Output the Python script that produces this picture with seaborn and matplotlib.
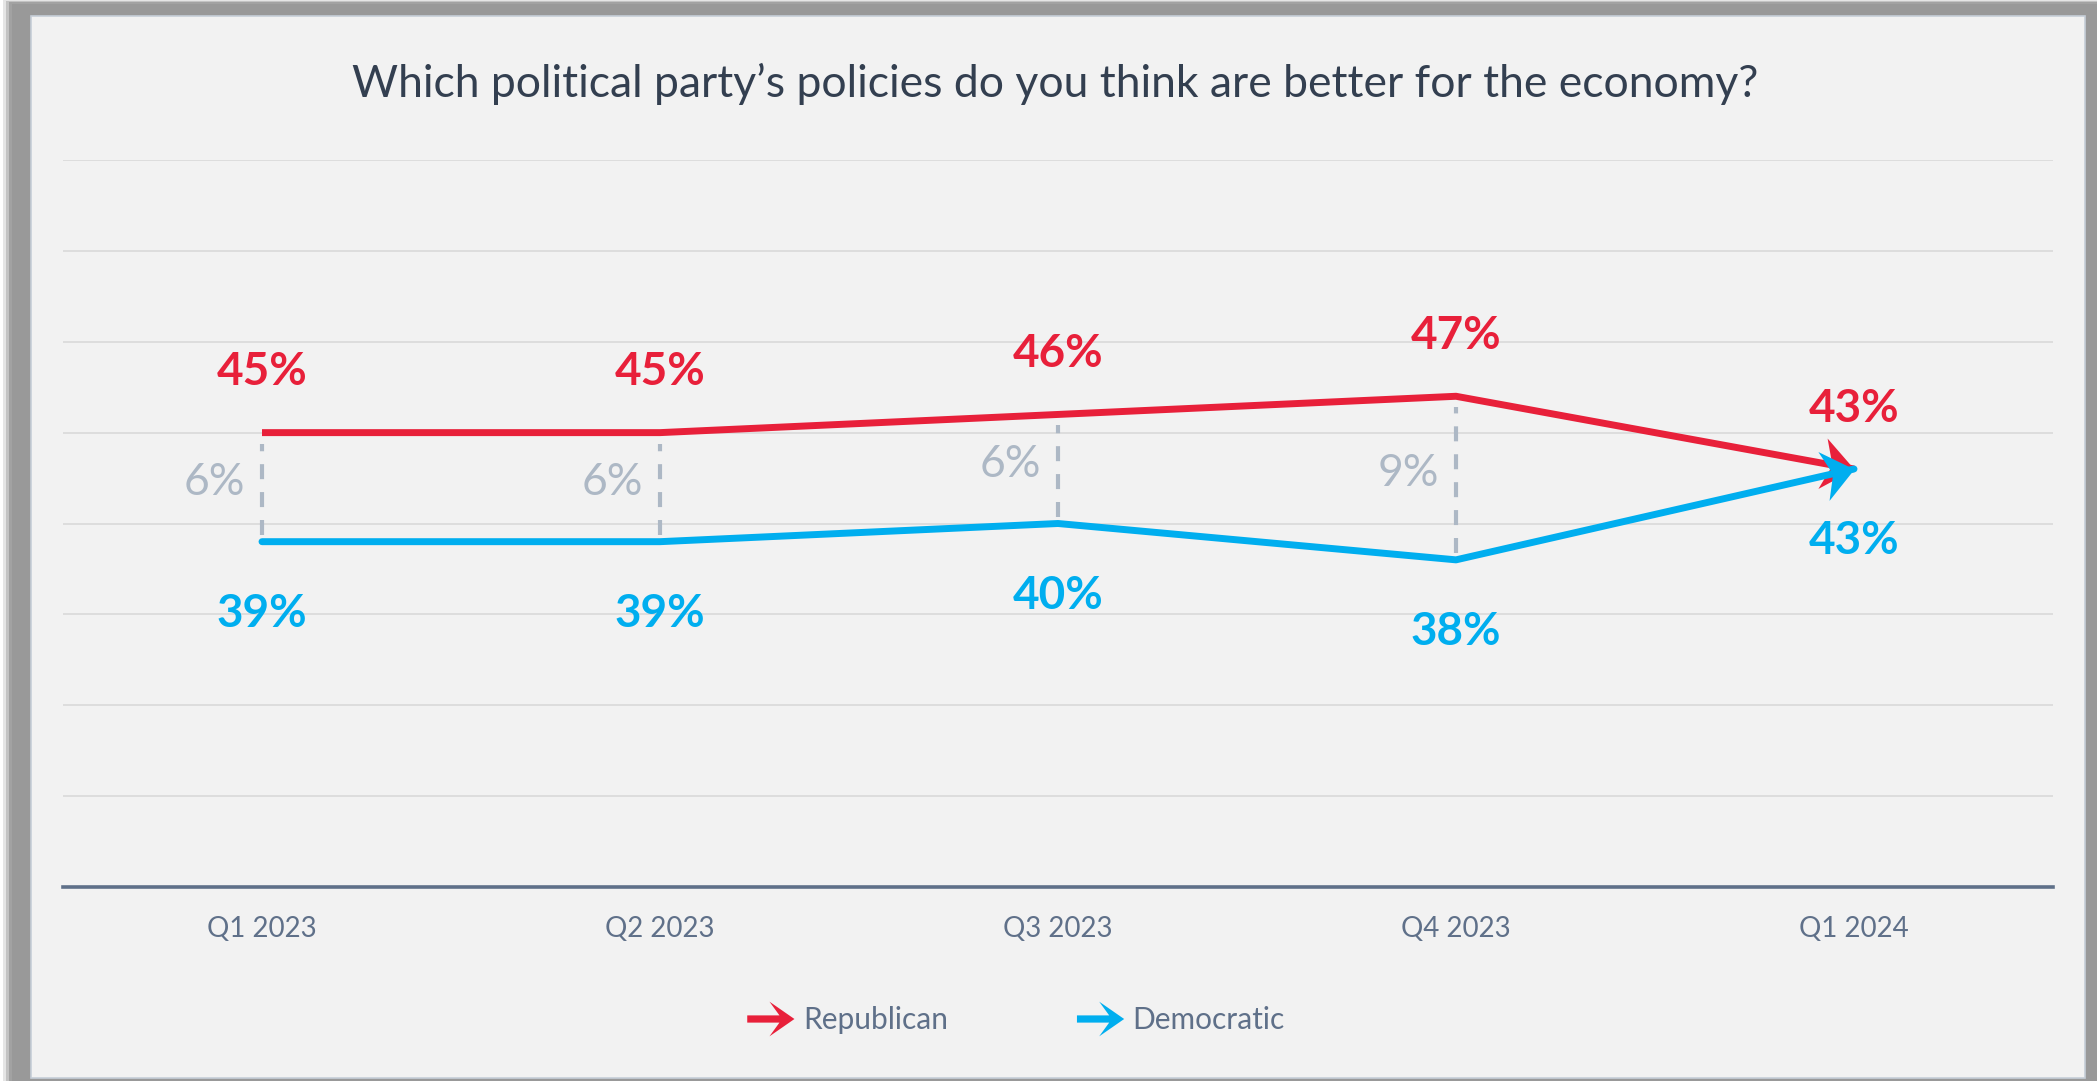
import numpy as np
import pandas as pd
import matplotlib
matplotlib.use("Agg")
import matplotlib.pyplot as plt
import seaborn as sns
from matplotlib.patches import Rectangle, Polygon
from matplotlib.path import Path
from matplotlib.markers import MarkerStyle
from matplotlib.lines import Line2D
from matplotlib.legend_handler import HandlerBase

# ---------------- data ----------------
quarters = ["Q1 2023", "Q2 2023", "Q3 2023", "Q4 2023", "Q1 2024"]
republican = [45, 45, 46, 47, 43]
democratic = [39, 39, 40, 38, 43]
series_names = ["Republican", "Democratic"]
title_text = "Which political party\u2019s policies do you think are better for the economy?"

# ---------------- style ----------------
RED = "#E8203A"
BLUE = "#00AEEF"
GAP_C = "#ADB8C5"
TITLE_C = "#333F50"
TICK_C = "#5F7089"
GRID_C = "#D9D9D9"
PANEL_C = "#F2F2F2"

W, H = 2097, 1081
sns.set_theme(style="white")
plt.rcParams["font.family"] = ["Lato", "DejaVu Sans"]

fig = plt.figure(figsize=(W / 100, H / 100), dpi=100, facecolor="white")


def fx(x):
    return x / W


def fy(y):
    return 1 - y / H


# drop shadow / grey frame
for x0, y0, col, a in [(3, 0, "#9A9A9A", 0.25), (6, 1, "#9A9A9A", 0.45),
                       (9, 2, "#9A9A9A", 0.8), (12, 4, "#999999", 1.0)]:
    fig.patches.append(Rectangle((fx(x0), fy(H + 10)), (W + 20 - x0) / W, (H + 10 - y0) / H,
                                 transform=fig.transFigure, facecolor=col, edgecolor="none",
                                 alpha=a, zorder=-3))
# panel
fig.patches.append(Rectangle((fx(31), fy(1078)), (2085 - 31) / W, (1078 - 16) / H,
                             transform=fig.transFigure, facecolor=PANEL_C,
                             edgecolor="#C6CED8", linewidth=1.2, zorder=-2))

ax = fig.add_axes([fx(63), fy(887), (2053 - 63) / W, (887 - 160) / H])
ax.set_facecolor("none")
ax.set_zorder(2)

df = pd.DataFrame({
    "pos": list(range(len(quarters))) * 2,
    "share": republican + democratic,
    "party": [series_names[0]] * len(quarters) + [series_names[1]] * len(quarters),
})
palette = {series_names[0]: RED, series_names[1]: BLUE}

sns.lineplot(data=df, x="pos", y="share", hue="party", palette=palette,
             linewidth=5, sort=False, estimator=None, legend=False, ax=ax)

ax.set_xlim(-0.5, len(quarters) - 0.5)
ax.set_ylim(20, 60)
ax.set_yticks(np.arange(25, 61, 5))
ax.set_yticklabels([])
ax.tick_params(axis="y", length=0)
ax.grid(axis="y", color=GRID_C, linewidth=1.2)
ax.grid(axis="x", visible=False)
ax.set_axisbelow(True)
for s in ["left", "right", "top"]:
    ax.spines[s].set_visible(False)
ax.spines["bottom"].set_color(TICK_C)
ax.spines["bottom"].set_linewidth(2.6)
ax.set_xticks(range(len(quarters)))
ax.set_xticklabels(quarters, fontsize=20, color=TICK_C)
ax.tick_params(axis="x", length=0, pad=21)
ax.set_xlabel("")
ax.set_ylabel("")

lines = ax.get_lines()
lines[0].set_zorder(3)
lines[1].set_zorder(4)
lines[1].set_solid_capstyle("round")
lines[0].set_solid_capstyle("butt")


def arrow_marker(angle_deg):
    L, hw, notch = 1.0, 0.8, 0.7
    verts = np.array([(0, 0), (-L, hw), (-notch * L, 0), (-L, -hw), (0, 0)])
    t = np.radians(angle_deg)
    R = np.array([[np.cos(t), -np.sin(t)], [np.sin(t), np.cos(t)]])
    v = verts @ R.T
    codes = [Path.MOVETO, Path.LINETO, Path.LINETO, Path.LINETO, Path.CLOSEPOLY]
    return MarkerStyle(Path(v, codes))


n = len(quarters)
for vals, col, z in [(republican, RED, 3.5), (democratic, BLUE, 4.5)]:
    p1 = ax.transData.transform((n - 2, vals[-2]))
    p2 = ax.transData.transform((n - 1, vals[-1]))
    ang = np.degrees(np.arctan2(p2[1] - p1[1], p2[0] - p1[0]))
    ax.plot([n - 1], [vals[-1]], marker=arrow_marker(ang), markersize=52,
            color=col, markeredgewidth=0, linestyle="none", zorder=z)

# value labels
for i, (r, d) in enumerate(zip(republican, democratic)):
    ax.annotate(f"{r}%", xy=(i, r), xytext=(0, 43.5), textcoords="offset points",
                ha="center", va="center", fontsize=33, fontweight="bold", color=RED, zorder=6)
    ax.annotate(f"{d}%", xy=(i, d), xytext=(0, -52), textcoords="offset points",
                ha="center", va="center", fontsize=33, fontweight="bold", color=BLUE, zorder=6)

# gap connectors
for i, (r, d) in enumerate(zip(republican[:-1], democratic[:-1])):
    gap = r - d
    ax.vlines(i, d + 0.35, r - 0.6, colors=GAP_C, linewidth=3,
              linestyles=(0, (3.6, 3.1)), zorder=2)
    ax.annotate(f"{gap}%", xy=(i, (r + d) / 2), xytext=(-12, 3.5), textcoords="offset points",
                ha="right", va="center", fontsize=32, color=GAP_C, zorder=6)

# title
fig.text(fx(1055), fy(84), title_text, ha="center", va="center", fontsize=32, color=TITLE_C)


# legend with arrow handles
class ArrowHandler(HandlerBase):
    def create_artists(self, legend, orig_handle, xdescent, ydescent, width, height,
                       fontsize, trans):
        c = orig_handle.get_color()
        y = height / 2 - ydescent
        x0 = -xdescent
        x1 = x0 + width
        L, hw, sh = 18.0, 12.5, 2.6
        verts = [(x1, y), (x1 - L, y + hw), (x1 - 0.6 * L, y + sh), (x0, y + sh),
                 (x0, y - sh), (x1 - 0.6 * L, y - sh), (x1 - L, y - hw)]
        return [Polygon(verts, closed=True, facecolor=c, edgecolor="none", transform=trans)]


handles = [Line2D([], [], color=RED), Line2D([], [], color=BLUE)]
fs = 21.5
fig.legend(handles, series_names, handler_map={Line2D: ArrowHandler()},
           loc="center", bbox_to_anchor=(fx(1016), fy(1019)), ncol=2, frameon=False,
           fontsize=fs, labelcolor=TICK_C, handlelength=34 / fs, handleheight=1.2,
           handletextpad=6 / fs, columnspacing=93 / fs)

fig.savefig("out.png", dpi=100, facecolor="white")
